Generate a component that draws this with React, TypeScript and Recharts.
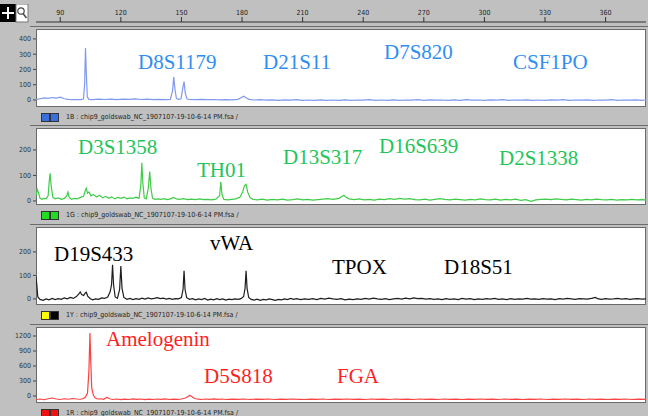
import React from 'react';
import { LineChart, Line, XAxis, YAxis } from 'recharts';

// size axis (bp) shared by the ruler and all dye panels
const sizeDomain: [number, number] = [78, 380];
const sizeTicks = [90, 120, 150, 180, 210, 240, 270, 300, 330, 360];

const fileName = 'chip9_goldswab_NC_1907107-19-10-6-14 PM.fsa /';

// [size, rfu]
const blueTrace: [number, number][] = [
  [78, 2], [80, 8], [82, 14], [84, 10], [86, 16], [88, 12], [90, 18], [92, 8], [94, 4], [96, 2], [98, 3], [100, 2],
  [101.5, 6], [102.1, 110], [102.5, 340], [102.9, 180], [103.4, 20], [104.2, 4], [106, 2], [109, 6], [112, 3],
  [115, 5], [118, 2], [121, 6], [124, 4], [127, 7], [130, 3], [133, 5], [136, 2], [139, 4], [142, 2], [144.5, 4],
  [145.6, 60], [146.2, 150], [146.8, 70], [147.5, 10], [148.5, 4], [149.8, 8], [150.7, 80], [151.3, 120],
  [151.9, 45], [152.8, 6], [154, 3], [157, 2], [160, 4], [163, 2], [166, 3], [169, 1], [172, 2], [175, 1],
  [178, 4], [179.5, 14], [180.8, 24], [182, 14], [183.5, 4], [186, 0], [189, 2], [192, -1], [195, 1], [198, -2],
  [201, 1], [204, -1], [207, 2], [210, -2], [213, 0], [216, -3], [219, 1], [222, -2], [225, 0], [228, -3],
  [231, 1], [234, -2], [237, 0], [240, -1], [243, 2], [246, -2], [249, 0], [252, -3], [255, 1], [258, -2],
  [261, 0], [264, -1], [267, 2], [270, -2], [273, 1], [276, -1], [279, 0], [282, -3], [285, 1], [288, -2],
  [291, 2], [294, -1], [297, 0], [300, -2], [303, 1], [306, -1], [309, 2], [312, -2], [315, 0], [318, -1],
  [321, 1], [324, -2], [327, 0], [330, -3], [333, 1], [336, -1], [339, 2], [342, -2], [345, 0], [348, -1],
  [351, 1], [354, -2], [357, 0], [360, -1], [363, 2], [366, -2], [369, 0], [372, -1], [375, 1], [378, -2], [380, 0],
];

const greenTrace: [number, number][] = [
  [78, 20], [78.6, 45], [79.3, 30], [80, 10], [81, 6], [82, 10], [83, 8], [84, 20], [84.6, 80], [85, 108],
  [85.5, 60], [86.3, 15], [87.5, 8], [89, 12], [90.5, 6], [92, 10], [93.2, 20], [93.8, 35], [94.4, 15], [95.5, 6],
  [97, 10], [98.5, 8], [100, 14], [101.5, 18], [102.4, 40], [102.9, 50], [103.5, 30], [104.3, 35], [105.2, 20],
  [106.5, 25], [108, 15], [109.5, 22], [111, 12], [112.5, 18], [114, 10], [115.5, 16], [117, 8], [118.5, 14],
  [120, 10], [121.5, 15], [123, 8], [124.5, 12], [126, 10], [127.5, 15], [129, 10], [129.9, 60], [130.4, 150],
  [130.9, 70], [131.6, 12], [132.6, 8], [133.6, 50], [134.3, 115], [134.9, 50], [135.7, 10], [137, 6], [138.5, 8],
  [140, 6], [141.5, 9], [143, 5], [144.5, 8], [146, 14], [147.5, 8], [149, 6], [151, 9], [153, 5], [155, 7],
  [157, 5], [159, 8], [161, 5], [163, 6], [165, 4], [167, 7], [168.9, 20], [169.5, 75], [170.1, 25], [171, 6],
  [173, 4], [175, 6], [177, 8], [179, 15], [180.3, 35], [181.2, 60], [182, 65], [182.8, 35], [184, 12],
  [185.5, 6], [187.5, 4], [190, 7], [192.5, 3], [195, 6], [197.5, 4], [200, 7], [202.5, 3], [205, 5], [207.5, 8],
  [210, 4], [212.5, 6], [215, 3], [217.5, 5], [220, 7], [222.5, 9], [225, 6], [228, 10], [230.5, 22], [231.5, 14],
  [233, 8], [235.5, 5], [238, 8], [240.5, 4], [243, 6], [245.5, 3], [248, 7], [250.5, 5], [253, 9], [255.5, 6],
  [258, 10], [260.5, 7], [263, 9], [265.5, 5], [268, 4], [270.5, 7], [273, 3], [275.5, 6], [278, 9], [280.5, 6],
  [283, 4], [285.5, 7], [288, 5], [290.5, 3], [293, 6], [295.5, 4], [298, 8], [300.5, 5], [303, 4], [305.5, 7],
  [308, 3], [310.5, 6], [313, 4], [315.5, 7], [318, 2], [320.5, 5], [323, -2], [325.5, 4], [328, 6], [330.5, 7],
  [333, 5], [335.5, 8], [338, 6], [340.5, 4], [343, 7], [345.5, 5], [348, 3], [350.5, 6], [353, 4], [355.5, 7],
  [358, 5], [360.5, 4], [363, 6], [365.5, 3], [368, 5], [370.5, 4], [373, 6], [375.5, 4], [378, 5], [380, 4],
];

const blackTrace: [number, number][] = [
  [78, 95], [78.4, 60], [78.9, 8], [80, -2], [81.5, -6], [83, 0], [84.5, -4], [86, 2], [87.5, -3], [89, 1],
  [90.5, -2], [92, 4], [93.5, 0], [95, 6], [96.5, 2], [98, 10], [99.3, 22], [99.9, 30], [100.6, 18], [101.6, 14],
  [102.3, 24], [102.9, 28], [103.6, 12], [104.8, 2], [106, -4], [107.5, 0], [109, -2], [110.5, 4], [112, 2],
  [113.5, 8], [114.7, 30], [115.4, 60], [115.9, 145], [116.4, 60], [117.2, 8], [118.3, 2], [119.4, 40],
  [120, 140], [120.6, 45], [121.5, 6], [123, -2], [124.5, 2], [126, -3], [127.5, 1], [129, -2], [130.5, 3],
  [132, -1], [133.5, 4], [135, 0], [136.5, 2], [138, 5], [139.5, 1], [141, 3], [142.5, -1], [144, 2],
  [145.5, -2], [147, 1], [148.5, 0], [150, 6], [150.8, 40], [151.3, 120], [151.8, 40], [152.6, 5], [154, -2],
  [155.5, 1], [157, -4], [158.5, 0], [160, -3], [161.5, 2], [163, -5], [164.5, -1], [166, -4], [167.5, 1],
  [169, -3], [170.5, 0], [172, -5], [173.5, -1], [175, -3], [176.5, 0], [178, -2], [179.5, 1], [180.8, 10],
  [181.5, 45], [182, 120], [182.5, 45], [183.3, 6], [184.5, -2], [186, -5], [187.5, -1], [189, -6], [190.5, -2],
  [192, -4], [193.5, 0], [195, -3], [196.5, -6], [198, -2], [199.5, -4], [201, 0], [202.5, -3], [204, 2],
  [205.5, -2], [207, 1], [209, -3], [211, 0], [213, -2], [215, 1], [217, -3], [219, 2], [221, -1], [223, 3],
  [225, 0], [227, -2], [229, 1], [231, -4], [233, -1], [235, -3], [237, 0], [239, -2], [241, 2], [243, -1],
  [245, 3], [247, 0], [249, -2], [251, 1], [253, -3], [255, 0], [257, 2], [259, -1], [261, 3], [263, 0],
  [265, 4], [267, 1], [269, 2], [271, -1], [273, 1], [275, -2], [277, 0], [279, -3], [281, 1], [283, -2],
  [285, 0], [287, -3], [289, 2], [291, -1], [293, 1], [295, -3], [297, 0], [299, -2], [301, 1], [303, -1],
  [305, 2], [307, -2], [309, 0], [311, -3], [313, 1], [315, -2], [317, 0], [319, -1], [321, 2], [323, -1],
  [325, 0], [327, -2], [329, 1], [331, -1], [333, 0], [335, -3], [337, 1], [339, -1], [341, 2], [343, 0],
  [345, -2], [347, 1], [349, 0], [351, -1], [353, 2], [355, 6], [356, 1], [358, -2], [360, 1], [362, -1],
  [364, 0], [366, 2], [368, -1], [370, 1], [372, -2], [374, 0], [376, 1], [378, -1], [380, 0],
];

const redTrace: [number, number][] = [
  [78, -70], [80, -60], [82, -75], [84, -55], [86, -40], [88, -60], [90, -70], [92, -55], [94, -65], [96, -50],
  [98, -60], [100, -65], [101.5, -50], [102.5, -20], [103.5, 60], [104.2, 500], [104.7, 1260], [105.1, 700],
  [105.6, 150], [106.4, 20], [107.3, -40], [108.5, -60], [110, -55], [111.5, -65], [113, -30], [114.5, -55],
  [116, -70], [118, -60], [120, -72], [122, -62], [124, -70], [126, -58], [128, -68], [130, -60], [132, -72],
  [134, -62], [136, -70], [138, -60], [140, -68], [142, -58], [144, -70], [146, -62], [148, -66], [150, -60],
  [152, -40], [153.3, -10], [154, 10], [154.8, 0], [155.7, -30], [157, -55], [158.5, -62], [160, -70], [162, -60],
  [164, -68], [166, -58], [168, -66], [170, -60], [172, -70], [175, -62], [178, -68], [181, -60], [184, -70],
  [187, -64], [190, -66], [193, -60], [196, -70], [199, -62], [202, -68], [205, -60], [208, -66], [211, -70],
  [214, -62], [217, -68], [220, -60], [223, -70], [226, -64], [229, -66], [232, -60], [235, -68], [238, -62],
  [241, -70], [244, -60], [247, -66], [250, -64], [253, -70], [256, -60], [259, -68], [262, -62], [265, -70],
  [268, -60], [271, -66], [274, -64], [277, -70], [280, -60], [283, -68], [286, -62], [289, -70], [292, -64],
  [295, -66], [298, -60], [301, -68], [304, -62], [307, -70], [310, -60], [313, -66], [316, -64], [319, -70],
  [322, -62], [325, -68], [328, -60], [331, -70], [334, -64], [337, -66], [340, -60], [343, -68], [346, -62],
  [349, -70], [352, -60], [355, -66], [358, -64], [361, -70], [364, -62], [367, -68], [370, -60], [373, -70],
  [376, -64], [380, -66],
];

const blueLoci = ['D8S1179', 'D21S11', 'D7S820', 'CSF1PO'];
const greenLoci = ['D3S1358', 'TH01', 'D13S317', 'D16S639', 'D2S1338'];
const blackLoci = ['D19S433', 'vWA', 'TPOX', 'D18S51'];
const redLoci = ['Amelogenin', 'D5S818', 'FGA'];

const blueTicks = [0, 100, 200, 300, 400];
const greenTicks = [0, 100, 200];
const blackTicks = [0, 100, 200];
const redTicks = [0, 300, 600, 900, 1200];

type Pos = [number, number];

interface PanelProps {
  top: number;
  height: number;
  trace: [number, number][];
  stroke: string;
  textColor: string;
  domain: [number, number];
  ticks: number[];
  loci: string[];
  lociPos: Pos[];
  dye: string;
  icons: [string, string];
}

const Panel: React.FC<PanelProps> = ({ top, height, trace, stroke, textColor, domain, ticks, loci, lociPos, dye, icons }) => {
  const data = trace.map(([s, v]) => ({ s, v }));
  return (
    <>
      <div style={{ position: 'absolute', left: 30, top: top - 3, width: 618, height: 1, background: '#6c6c6c' }} />
      <div style={{ position: 'absolute', left: 36, top, width: 610, height, background: '#fff', boxSizing: 'border-box', border: '1px solid #6a6a6a' }} />
      <div style={{ position: 'absolute', left: 0, top }}>
        <LineChart width={646} height={height} data={data} margin={{ top: 0, right: 0, bottom: 0, left: 0 }}>
          <XAxis dataKey="s" type="number" domain={sizeDomain} allowDataOverflow hide />
          <YAxis
            type="number"
            domain={domain}
            ticks={ticks}
            allowDataOverflow
            width={36}
            axisLine={false}
            tickSize={3}
            tickLine={{ stroke: '#444' }}
            tick={{ fontSize: 7, fill: '#333', fontFamily: 'Liberation Sans Narrow, DejaVu Sans Condensed, sans-serif' }}
          />
          <Line type="linear" dataKey="v" stroke={stroke} strokeWidth={1.2} dot={false} isAnimationActive={false} />
        </LineChart>
      </div>
      {loci.map((name, i) => (
        <div
          key={name}
          style={{
            position: 'absolute', left: lociPos[i][0], top: lociPos[i][1], color: textColor,
            fontFamily: 'Liberation Serif, serif', fontSize: 21, lineHeight: '24px', whiteSpace: 'nowrap',
          }}
        >
          {name}
        </div>
      ))}
      <div style={{ position: 'absolute', left: 41, top: top + height + 6, width: 7, height: 7, background: icons[0], border: '1px solid #333' }} />
      <div style={{ position: 'absolute', left: 50, top: top + height + 6, width: 7, height: 7, background: icons[1], border: '1px solid #333' }} />
      <div
        style={{
          position: 'absolute', left: 66, top: top + height + 5, fontSize: 7, lineHeight: '10px', color: '#222',
          fontFamily: 'DejaVu Sans Condensed, sans-serif', whiteSpace: 'nowrap',
        }}
      >
        {dye} : {fileName}
      </div>
    </>
  );
};

const App: React.FC = () => {
  const rulerData = [{ s: sizeDomain[0] }, { s: sizeDomain[1] }];
  return (
    <div style={{ position: 'fixed', left: 0, top: 0, width: 648, height: 416, background: '#c0c0c0', overflow: 'hidden' }}>
      {/* size ruler */}
      <div style={{ position: 'absolute', left: 0, top: 0 }}>
        <LineChart width={646} height={24} data={rulerData} margin={{ top: 0, right: 0, bottom: 0, left: 36 }}>
          <XAxis
            orientation="top"
            dataKey="s"
            type="number"
            domain={sizeDomain}
            ticks={sizeTicks}
            height={22}
            tickSize={5}
            axisLine={{ stroke: '#333' }}
            tickLine={{ stroke: '#333' }}
            tick={{ fontSize: 7, fill: '#222', fontFamily: 'Liberation Sans Narrow, DejaVu Sans Condensed, sans-serif' }}
          />
        </LineChart>
      </div>
      <svg style={{ position: 'absolute', left: 0, top: 4 }} width={30} height={19}>
        <rect x={0} y={0} width={16} height={18} fill="#000" />
        <path d="M8 3 V15 M2 9 H14" stroke="#fff" strokeWidth={2} />
        <rect x={16} y={0} width={12} height={18} fill="#fff" stroke="#777" />
        <circle cx={21} cy={7} r={3.2} fill="none" stroke="#444" strokeWidth={1.2} />
        <path d="M23 9.5 L26.5 14" stroke="#444" strokeWidth={1.5} />
      </svg>

      <Panel
        top={29} height={78} trace={blueTrace} stroke="#7f98ee" textColor="#2f8ef2"
        domain={[-46, 465]} ticks={blueTicks} loci={blueLoci}
        lociPos={[[138, 50], [263, 50], [384, 40], [513, 50]]}
        dye="1B" icons={['#3a6fe0', '#3a6fe0']}
      />
      <Panel
        top={128} height={77} trace={greenTrace} stroke="#3fcc48" textColor="#1fc55a"
        domain={[-16, 286]} ticks={greenTicks} loci={greenLoci}
        lociPos={[[78, 135], [197, 158], [283, 145], [379, 134], [499, 146]]}
        dye="1G" icons={['#22dd22', '#22dd22']}
      />
      <Panel
        top={227} height={78} trace={blackTrace} stroke="#1e1e1e" textColor="#000"
        domain={[-26, 306]} ticks={blackTicks} loci={blackLoci}
        lociPos={[[54, 242], [210, 231], [332, 255], [444, 255]]}
        dye="1Y" icons={['#ffff00', '#000']}
      />
      <Panel
        top={327} height={76} trace={redTrace} stroke="#ff4040" textColor="#ff1f1f"
        domain={[-140, 1380]} ticks={redTicks} loci={redLoci}
        lociPos={[[106, 327], [204, 364], [337, 364]]}
        dye="1R" icons={['#ee1111', '#ee1111']}
      />
    </div>
  );
};

export default App;
